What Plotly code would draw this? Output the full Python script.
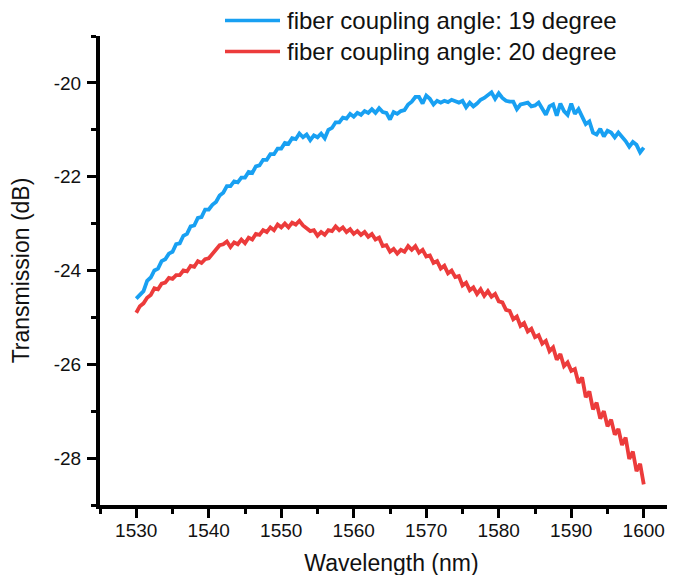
import numpy as np
import plotly.graph_objects as go

# Wavelength grid (nm), 0.5 nm sampling
wavelength = np.arange(1530.0, 1600.01, 0.5)

# Transmission (dB), fiber coupling angle 19 degree
trans_19 = [
    -24.60, -24.52, -24.44, -24.22, -24.15, -24.00, -23.96, -23.80, -23.76, -23.64,
    -23.60, -23.44, -23.42, -23.26, -23.22, -23.06, -23.04, -22.88, -22.86, -22.70,
    -22.70, -22.60, -22.54, -22.40, -22.34, -22.20, -22.20, -22.10, -22.12, -22.02,
    -22.02, -21.90, -21.92, -21.78, -21.76, -21.64, -21.64, -21.52, -21.52, -21.40,
    -21.40, -21.28, -21.30, -21.18, -21.20, -21.08, -21.16, -21.10, -21.22, -21.12,
    -21.16, -21.08, -21.18, -21.00, -20.96, -20.84, -20.84, -20.74, -20.76, -20.66,
    -20.72, -20.64, -20.68, -20.60, -20.64, -20.56, -20.64, -20.54, -20.62, -20.64,
    -20.78, -20.62, -20.66, -20.60, -20.58, -20.46, -20.40, -20.30, -20.30, -20.44,
    -20.27, -20.34, -20.46, -20.38, -20.42, -20.38, -20.41, -20.36, -20.40, -20.42,
    -20.38, -20.52, -20.42, -20.50, -20.44, -20.36, -20.32, -20.26, -20.20, -20.34,
    -20.22, -20.32, -20.38, -20.40, -20.40, -20.56, -20.46, -20.44, -20.42, -20.50,
    -20.48, -20.42, -20.56, -20.68, -20.50, -20.46, -20.70, -20.44, -20.60, -20.68,
    -20.44, -20.66, -20.56, -20.72, -20.88, -20.82, -21.06, -21.10, -20.98, -21.14,
    -21.02, -21.06, -21.16, -21.06, -21.14, -21.24, -21.36, -21.26, -21.32, -21.48,
    -21.38,
]

# Transmission (dB), fiber coupling angle 20 degree
trans_20 = [
    -24.90, -24.76, -24.70, -24.58, -24.52, -24.38, -24.40, -24.28, -24.26, -24.16,
    -24.18, -24.10, -24.10, -24.00, -24.02, -23.90, -23.92, -23.80, -23.84, -23.76,
    -23.74, -23.64, -23.56, -23.46, -23.44, -23.38, -23.50, -23.40, -23.44, -23.34,
    -23.42, -23.30, -23.34, -23.22, -23.24, -23.14, -23.18, -23.08, -23.14, -23.02,
    -23.08, -23.00, -23.08, -22.98, -23.02, -22.94, -23.04, -23.10, -23.16, -23.14,
    -23.26, -23.18, -23.24, -23.14, -23.16, -23.06, -23.14, -23.08, -23.18, -23.12,
    -23.22, -23.16, -23.24, -23.18, -23.28, -23.22, -23.34, -23.30, -23.48, -23.46,
    -23.60, -23.54, -23.64, -23.56, -23.60, -23.48, -23.56, -23.48, -23.62, -23.56,
    -23.70, -23.68, -23.84, -23.80, -23.96, -23.90, -24.06, -24.00, -24.14, -24.12,
    -24.32, -24.26, -24.42, -24.36, -24.50, -24.40, -24.54, -24.44, -24.56, -24.50,
    -24.66, -24.68, -24.84, -24.86, -25.04, -24.98, -25.18, -25.12, -25.30, -25.24,
    -25.42, -25.38, -25.56, -25.50, -25.72, -25.64, -25.90, -25.78, -26.04, -25.96,
    -26.14, -26.10, -26.40, -26.28, -26.70, -26.58, -26.96, -26.82, -27.16, -27.00,
    -27.32, -27.18, -27.50, -27.38, -27.72, -27.56, -28.02, -27.86, -28.28, -28.12,
    -28.56,
]

series_names = ["fiber coupling angle: 19 degree", "fiber coupling angle: 20 degree"]
series_colors = ["#18A0F2", "#EC3B3B"]

x_ticks = [1530, 1540, 1550, 1560, 1570, 1580, 1590, 1600]
y_ticks = [-28, -26, -24, -22, -20]

FONT = "Liberation Sans, Arial, sans-serif"

fig = go.Figure()
for vals, name, col in zip([trans_19, trans_20], series_names, series_colors):
    n = min(len(vals), len(wavelength))
    fig.add_trace(go.Scatter(
        x=wavelength[:n], y=vals[:n], mode="lines", name=name,
        line=dict(color=col, width=3.8), showlegend=False,
    ))

# page offset (browser body margin) compensated in the margins
OFF = 8
W, H = 675, 575
L, R, T, B = 100 - OFF, 0, 36 - OFF, 575 - (505 - OFF)
pw, ph = W - L - R, H - T - B

def px_x(px):
    return (px - OFF - L) / pw

def px_y(py):
    return (H - B - (py - OFF)) / ph

# Manual legend above the plot
for i, (name, col) in enumerate(zip(series_names, series_colors)):
    yy = px_y([20.5, 51.5][i])
    fig.add_shape(type="line", xref="paper", yref="paper",
                  x0=px_x(225), x1=px_x(280), y0=yy, y1=yy,
                  line=dict(color=col, width=3.5))
    fig.add_annotation(xref="paper", yref="paper", x=px_x(285), y=yy,
                       text=name, showarrow=False, xanchor="left", yanchor="middle",
                       font=dict(family=FONT, size=24, color="#111111"))

axis_common = dict(
    showline=True, linecolor="black", linewidth=4, mirror=False,
    showgrid=False, zeroline=False,
    ticks="outside", ticklen=9, tickwidth=3, tickcolor="black",
    tickfont=dict(family=FONT, size=19, color="#111111"),
)

x_right = 1525 + pw / 7.25
fig.update_xaxes(
    range=[1525, x_right], tickvals=x_ticks, ticktext=[str(v) for v in x_ticks],
    minor=dict(ticks="outside", ticklen=5, tickwidth=3, tickcolor="black", dtick=5, tick0=1525),
    title=dict(text="Wavelength (nm)", font=dict(family=FONT, size=23, color="#111111"), standoff=16),
    ticklabelstandoff=-4,
    **axis_common,
)
fig.update_yaxes(
    range=[-29, -19], tickvals=y_ticks, ticktext=[str(v) for v in y_ticks],
    minor=dict(ticks="outside", ticklen=5, tickwidth=3, tickcolor="black", dtick=1, tick0=-29),
    title=dict(text="Transmission (dB)", font=dict(family=FONT, size=23, color="#111111"), standoff=22),
    ticklabelstandoff=2,
    **axis_common,
)

fig.update_layout(
    width=W, height=H,
    margin=dict(l=L, r=R, t=T, b=B),
    plot_bgcolor="white", paper_bgcolor="white",
    font=dict(family=FONT),
)

fig.write_html("out.html")
